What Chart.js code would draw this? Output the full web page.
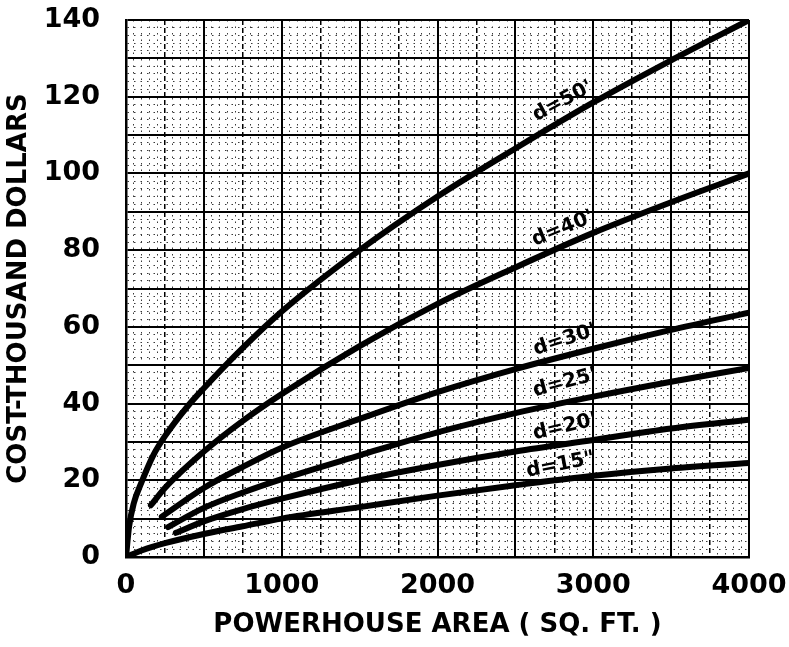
<!DOCTYPE html>
<html>
<head>
<meta charset="utf-8">
<script src="https://cdn.jsdelivr.net/npm/chart.js@4/dist/chart.umd.min.js"></script>
<style>
  html, body { margin: 0; padding: 0; background: #fff; }
  #wrap { width: 789px; height: 647px; }
</style>
</head>
<body>
<div id="wrap"><canvas id="cost_chart" width="789" height="647"></canvas></div>
<script>
// powerhouse area (sq.ft.) / cost (thousand dollars), one pair of arrays per depth
const area50 = [0, 20, 50, 100, 175, 250, 400, 500, 750, 1000, 1500, 2000, 2500, 3000, 3500, 4000];
const cost50 = [0, 8, 14, 19.5, 26.5, 31.5, 39.5, 44, 54.5, 64, 80, 94, 106.5, 118.5, 129.5, 140];

const area40 = [160, 250, 500, 750, 1000, 1500, 2000, 2500, 3000, 3500, 4000];
const cost40 = [13.5, 18, 27.5, 35.5, 42.5, 55, 66, 75.5, 84.5, 92.5, 100];

const area30 = [230, 500, 750, 1000, 1500, 2000, 2500, 3000, 3500, 4000];
const cost30 = [10.5, 18, 23.5, 28.5, 36, 43, 49, 54.3, 59.2, 63.7];

const area25 = [270, 500, 750, 1000, 1500, 2000, 2500, 3000, 3500, 4000];
const cost25 = [7.8, 12.8, 16.8, 20.3, 26.5, 32.5, 37.5, 41.8, 45.7, 49.3];

const area20 = [320, 500, 750, 1000, 1500, 2000, 2500, 3000, 3500, 4000];
const cost20 = [6.3, 9.3, 12.5, 15.2, 20, 24, 27.5, 30.5, 33.5, 35.8];

const area15 = [0, 100, 250, 500, 750, 1000, 1500, 2000, 2500, 3000, 3500, 4000];
const cost15 = [0, 1.7, 3.6, 6, 8, 10, 13, 16, 18.7, 21.2, 23.1, 24.5];

const curveNames = ["d=50'", "d=40'", "d=30'", "d=25'", "d=20'", 'd=15"'];
const xTickLabels = [0, 1000, 2000, 3000, 4000];
const yTickLabels = [0, 20, 40, 60, 80, 100, 120, 140];

// where the curve names sit (data units) and their tilt
const nameSpots = [
    { x: 2805, y: 118.8, angle: -28 },
    { x: 2805, y: 85.6, angle: -22 },
    { x: 2818, y: 56.6, angle: -18 },
    { x: 2818, y: 45.4, angle: -15 },
    { x: 2818, y: 33.9, angle: -13 },
    { x: 2790, y: 24, angle: -11 }
];

const series = [
    [area50, cost50], [area40, cost40], [area30, cost30],
    [area25, cost25], [area20, cost20], [area15, cost15]
];

const axisFont = { family: 'DejaVu Sans', weight: 'bold', size: 27 };
const titleFont = { family: 'DejaVu Sans', weight: 'bold', size: 26 };

// names written along the curves
const curveNamePlugin = {
    id: 'curveNames',
    afterDatasetsDraw(chart) {
        const { ctx, scales: { x, y } } = chart;
        ctx.save();
        ctx.fillStyle = '#000';
        ctx.font = 'bold 20px "DejaVu Sans"';
        ctx.textAlign = 'center';
        ctx.textBaseline = 'middle';
        nameSpots.forEach((spot, i) => {
            ctx.save();
            ctx.translate(x.getPixelForValue(spot.x), y.getPixelForValue(spot.y));
            ctx.rotate(spot.angle * Math.PI / 180);
            ctx.fillText(curveNames[i], 0, 0);
            ctx.restore();
        });
        ctx.restore();
    }
};

function gridStyle(major, medium) {
    return {
        color: c => (c.tick && (c.tick.value % major === 0 || (medium && c.tick.value % medium === 0))) ? '#000' : '#3a3a3a',
        lineWidth: c => !c.tick ? 1 : c.tick.value % major === 0 ? 2 : (medium && c.tick.value % medium === 0) ? 1.5 : 1
    };
}

function fnCostChart() {
    const ctx = document.getElementById('cost_chart').getContext('2d');
    new Chart(ctx, {
        type: 'line',
        data: {
            datasets: series.map((s, i) => ({
                label: curveNames[i],
                data: s[0].map((a, j) => ({ x: a, y: s[1][j] })),
                borderColor: '#000',
                borderWidth: 6,
                borderCapStyle: 'round',
                pointRadius: 0,
                cubicInterpolationMode: 'monotone',
                fill: false
            }))
        },
        options: {
            responsive: false,
            animation: false,
            devicePixelRatio: 1,
            layout: { padding: { top: 20, right: 40, left: 0, bottom: 0 } },
            plugins: {
                legend: { display: false },
                tooltip: { enabled: false }
            },
            scales: {
                x: {
                    type: 'linear',
                    min: 0,
                    max: 4000,
                    afterFit: s => { s.height = 90; s.paddingLeft = 0; s.paddingRight = 0; },
                    ticks: {
                        stepSize: 50,
                        maxTicksLimit: 200,
                        autoSkip: false,
                        maxRotation: 0,
                        padding: 13,
                        color: '#000',
                        font: axisFont,
                        callback: v => xTickLabels.includes(v) ? String(v) : ''
                    },
                    grid: Object.assign({ drawTicks: false }, gridStyle(500, 250)),
                    border: {
                        display: true,
                        color: '#000',
                        width: 2.5,
                        dash: c => (c.tick && c.tick.value % 250 === 0) ? (c.tick.value % 500 === 0 ? [] : [5, 3]) : [1.5, 5]
                    },
                    title: {
                        display: true,
                        text: 'POWERHOUSE AREA ( SQ. FT. )',
                        color: '#000',
                        font: titleFont,
                        padding: { top: 0, bottom: 6 }
                    }
                },
                y: {
                    type: 'linear',
                    min: 0,
                    max: 140,
                    afterFit: s => { s.width = 126; s.paddingTop = 0; s.paddingBottom = 0; },
                    ticks: {
                        stepSize: 2,
                        maxTicksLimit: 200,
                        autoSkip: false,
                        padding: 26,
                        color: '#000',
                        font: axisFont,
                        callback: v => yTickLabels.includes(v) ? String(v) : ''
                    },
                    grid: Object.assign({ drawTicks: false }, gridStyle(10, 0)),
                    border: {
                        display: true,
                        color: '#000',
                        width: 2.5,
                        dash: c => (c.tick && c.tick.value % 10 === 0) ? [] : [1.5, 5]
                    },
                    title: {
                        display: true,
                        text: 'COST-THOUSAND DOLLARS',
                        color: '#000',
                        font: titleFont,
                        padding: { top: 4, bottom: 0 }
                    }
                }
            }
        },
        plugins: [curveNamePlugin]
    });
}

fnCostChart();
</script>
</body>
</html>
